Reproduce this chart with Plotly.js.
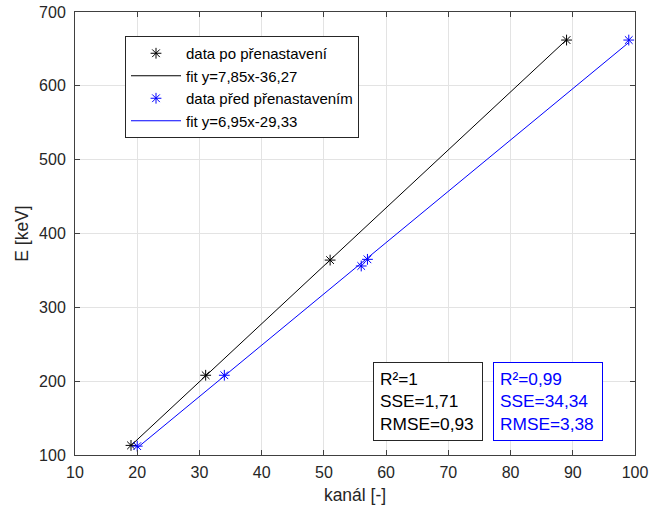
<!DOCTYPE html>
<html>
<head>
<meta charset="utf-8">
<script src="https://cdn.plot.ly/plotly-3.0.1.min.js"></script>
<style>html,body{margin:0;padding:0;background:#fff;}</style>
</head>
<body>
<div id="chart" style="width:649px;height:515px;"></div>
<script>
// Data after readjustment (po přenastavení)
const kanalPo = [19, 31, 51, 89];
const energiePo = [113, 208, 364, 662];
const fitPoX = [19, 89];
const fitPoY = [112.9, 662.4];

// Data before readjustment (před přenastavením)
const kanalPred = [20, 34, 56, 57, 99];
const energiePred = [112, 208, 356, 365, 662];
const fitPredX = [20, 99];
const fitPredY = [109.7, 658.7];

const names = ['data po přenastavení', 'fit y=7,85x-36,27', 'data před přenastavením', 'fit y=6,95x-29,33'];
const statsPo = ['R²=1', 'SSE=1,71', 'RMSE=0,93'];
const statsPred = ['R²=0,99', 'SSE=34,34', 'RMSE=3,38'];

const xTicks = [10, 20, 30, 40, 50, 60, 70, 80, 90, 100];
const yTicks = [100, 200, 300, 400, 500, 600, 700];

const font = 'Arial, "Liberation Sans", sans-serif';
const axisColor = '#404040';
const textColor = '#262626';

const traces = [
  {x: kanalPo, y: energiePo, mode: 'markers', name: names[0],
   marker: {symbol: 'asterisk-open', size: 9, color: 'black', line: {color: 'black', width: 1}}},
  {x: fitPoX, y: fitPoY, mode: 'lines', name: names[1],
   line: {color: 'black', width: 1}},
  {x: kanalPred, y: energiePred, mode: 'markers', name: names[2],
   marker: {symbol: 'asterisk-open', size: 9, color: 'blue', line: {color: 'blue', width: 1}}},
  {x: fitPredX, y: fitPredY, mode: 'lines', name: names[3],
   line: {color: 'blue', width: 1}}
];

const axisCommon = {
  showline: true, mirror: 'ticks', linecolor: axisColor, linewidth: 1,
  ticks: 'inside', ticklen: 5, tickcolor: axisColor,
  showgrid: true, gridcolor: '#e3e3e3', gridwidth: 1,
  zeroline: false, ticklabeloverflow: 'allow',
  tickfont: {family: font, size: 16, color: textColor}
};

const L = 75, R = 14, T = 12, B = 60;
const plotW = 649 - L - R, plotH = 515 - T - B;

const layout = {
  width: 649, height: 515,
  margin: {l: L, r: R, t: T, b: B},
  paper_bgcolor: 'white', plot_bgcolor: 'white',
  font: {family: font, color: textColor},
  showlegend: true,
  legend: {
    x: (125 - L) / plotW, y: (515 - B - 36) / plotH, xanchor: 'left', yanchor: 'top',
    bgcolor: 'white', bordercolor: textColor, borderwidth: 1,
    font: {family: font, size: 15, color: 'black'},
    itemwidth: 50, tracegroupgap: 0
  },
  xaxis: Object.assign({}, axisCommon, {
    range: [10, 100], tickvals: xTicks, ticklabelstandoff: 3,
    title: {text: 'kanál [-]', font: {family: font, size: 17.5, color: textColor}, standoff: 8}
  }),
  yaxis: Object.assign({}, axisCommon, {
    range: [100, 700], tickvals: yTicks, ticklabelstandoff: 5,
    title: {text: 'E [keV]', font: {family: font, size: 17.5, color: textColor}, standoff: 5}
  }),
  annotations: [
    {xref: 'paper', yref: 'paper', x: (373 - L) / plotW, y: (515 - B - 362) / plotH,
     xanchor: 'left', yanchor: 'top', align: 'left', showarrow: false, width: 96,
     text: statsPo.join('<br>'), font: {family: font, size: 17.3, color: 'black'},
     bordercolor: textColor, borderwidth: 1, borderpad: 6, bgcolor: 'white'},
    {xref: 'paper', yref: 'paper', x: (493 - L) / plotW, y: (515 - B - 362) / plotH,
     xanchor: 'left', yanchor: 'top', align: 'left', showarrow: false, width: 96,
     text: statsPred.join('<br>'), font: {family: font, size: 17.3, color: 'blue'},
     bordercolor: 'blue', borderwidth: 1, borderpad: 6, bgcolor: 'white'}
  ]
};

Plotly.newPlot('chart', traces, layout, {displayModeBar: false, staticPlot: true});
</script>
</body>
</html>
